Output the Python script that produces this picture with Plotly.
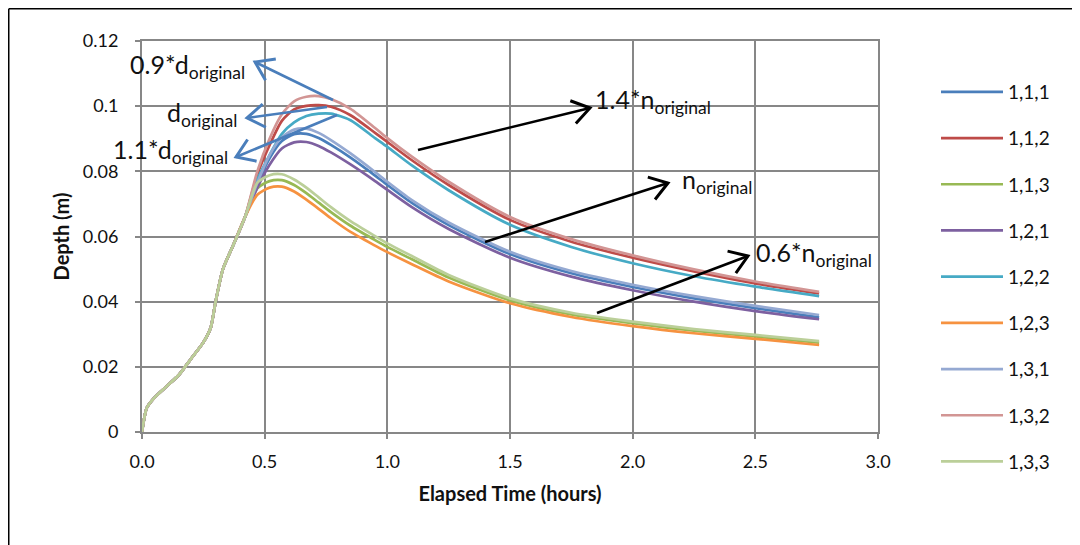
import math
import plotly.graph_objects as go

# ---------------- data ----------------
time_h = [0, 0.02, 0.05, 0.10, 0.15, 0.20, 0.25, 0.28, 0.30, 0.33, 0.37, 0.42,
          0.47, 0.52, 0.57, 0.62, 0.67, 0.72, 0.77, 0.85, 0.95, 1.00, 1.10, 1.25,
          1.50, 1.75, 2.00, 2.25, 2.50, 2.76]

rise = [0, 0.0075, 0.0105, 0.0140, 0.0175, 0.0225, 0.0275, 0.0320, 0.0400, 0.0500, 0.0570, 0.0660]

s_111 = rise + [0.0760, 0.0840, 0.0893, 0.0914, 0.0915, 0.0902, 0.0881, 0.0842, 0.0787, 0.0758, 0.0703, 0.0635,
                0.0546, 0.0487, 0.0445, 0.0410, 0.0380, 0.0352]
s_112 = rise + [0.0790, 0.0880, 0.0955, 0.0990, 0.1001, 0.1003, 0.0998, 0.0972, 0.0918, 0.0890, 0.0834, 0.0758,
                0.0651, 0.0584, 0.0535, 0.0493, 0.0456, 0.0425]
s_113 = rise + [0.0748, 0.0770, 0.0773, 0.0758, 0.0733, 0.0704, 0.0675, 0.0633, 0.0589, 0.0568, 0.0530, 0.0474,
                0.0404, 0.0361, 0.0334, 0.0311, 0.0293, 0.0274]
s_121 = rise + [0.0750, 0.0820, 0.0870, 0.0889, 0.0890, 0.0878, 0.0858, 0.0821, 0.0770, 0.0743, 0.0690, 0.0623,
                0.0535, 0.0477, 0.0435, 0.0400, 0.0371, 0.0346]
s_122 = rise + [0.0775, 0.0850, 0.0915, 0.0950, 0.0970, 0.0977, 0.0977, 0.0957, 0.0902, 0.0875, 0.0818, 0.0742,
                0.0636, 0.0568, 0.0518, 0.0478, 0.0446, 0.0417]
s_123 = rise + [0.0728, 0.0750, 0.0753, 0.0738, 0.0713, 0.0685, 0.0656, 0.0614, 0.0572, 0.0552, 0.0515, 0.0462,
                0.0395, 0.0353, 0.0325, 0.0303, 0.0286, 0.0267]
s_131 = rise + [0.0765, 0.0850, 0.0905, 0.0928, 0.0931, 0.0918, 0.0896, 0.0855, 0.0798, 0.0768, 0.0712, 0.0643,
                0.0553, 0.0494, 0.0452, 0.0417, 0.0387, 0.0359]
s_132 = rise + [0.0800, 0.0900, 0.0975, 0.1015, 0.1029, 0.1031, 0.1022, 0.0992, 0.0933, 0.0902, 0.0845, 0.0768,
                0.0660, 0.0592, 0.0542, 0.0499, 0.0462, 0.0430]
s_133 = rise + [0.0765, 0.0788, 0.0791, 0.0775, 0.0750, 0.0720, 0.0690, 0.0647, 0.0601, 0.0579, 0.0540, 0.0482,
                0.0410, 0.0366, 0.0339, 0.0316, 0.0298, 0.0279]

series_names = ["1,1,1", "1,1,2", "1,1,3", "1,2,1", "1,2,2", "1,2,3", "1,3,1", "1,3,2", "1,3,3"]
series_values = [s_111, s_112, s_113, s_121, s_122, s_123, s_131, s_132, s_133]
series_colors = ["#4A7EBB", "#BE4B48", "#98B954", "#7D60A0", "#46AAC5", "#F69240",
                 "#95A9D2", "#D29594", "#BBCF99"]

x_ticks = [0, 0.5, 1.0, 1.5, 2.0, 2.5, 3.0]
y_ticks = [0, 0.02, 0.04, 0.06, 0.08, 0.10, 0.12]

labels = ["0.9*d<sub>original</sub>", "d<sub>original</sub>", "1.1*d<sub>original</sub>",
          "1.4*n<sub>original</sub>", "n<sub>original</sub>", "0.6*n<sub>original</sub>"]

FONT = "Lato"
GRID = "#878787"
TXT = "#111111"

# page pixel geometry (page has an 8px body margin)
OFF = 8
PL, PR, PT, PB = 142, 878, 41, 432
W, H = 1080 - OFF, 545 - OFF


def px_x(px):  # page px -> paper x
    return (px - PL) / (PR - PL)


def px_y(py):  # page px -> paper y
    return (PB - py) / (PB - PT)


fig = go.Figure()
for name, vals, col in zip(series_names, series_values, series_colors):
    fig.add_trace(go.Scatter(x=time_h, y=vals, name=name, mode="lines",
                             line=dict(color=col, width=2.7, shape="spline", smoothing=0.7),
                             legendgroup=name))

BLUE = "#4A7EBB"
arrows = [
    (333, 100, 255, 62, BLUE),
    (327, 107, 247, 118, BLUE),
    (337, 115, 236, 157, BLUE),
    (418, 150, 590, 108, "black"),
    (485, 242, 668, 183, "black"),
    (597, 313, 748, 256, "black"),
]
ARM, ANG = 21, math.radians(34)
for tx, ty, hx, hy, c in arrows:
    fig.add_shape(type="line", xref="paper", yref="paper",
                  x0=px_x(tx), y0=px_y(ty), x1=px_x(hx), y1=px_y(hy),
                  line=dict(color=c, width=2.6))
    ux, uy = tx - hx, ty - hy
    n = math.hypot(ux, uy)
    ux, uy = ux / n, uy / n
    pts = []
    for s in (1, -1):
        ca, sa = math.cos(s * ANG), math.sin(s * ANG)
        pts.append((hx + ARM * (ux * ca - uy * sa), hy + ARM * (ux * sa + uy * ca)))
    path = "M{:.5f},{:.5f} L{:.5f},{:.5f} L{:.5f},{:.5f}".format(
        px_x(pts[0][0]), px_y(pts[0][1]), px_x(hx), px_y(hy), px_x(pts[1][0]), px_y(pts[1][1]))
    fig.add_shape(type="path", xref="paper", yref="paper", path=path,
                  line=dict(color=c, width=3))

text_pos = [(128, 66), (165, 114), (111, 151), (593, 101), (680, 181), (754, 254)]
for (px, py), t in zip(text_pos, labels):
    fig.add_annotation(x=px_x(px), y=px_y(py), xref="paper", yref="paper", text=t, showarrow=False,
                       xanchor="left", yanchor="middle",
                       font=dict(family=FONT, size=25, color=TXT))

# outer frame lines (top and left)
fig.add_shape(type="line", xref="paper", yref="paper", x0=px_x(OFF + 0.75), x1=px_x(1100),
              y0=px_y(OFF + 0.75), y1=px_y(OFF + 0.75), line=dict(color="black", width=1.5))
fig.add_shape(type="line", xref="paper", yref="paper", x0=px_x(OFF + 0.75), x1=px_x(OFF + 0.75),
              y0=px_y(OFF + 0.75), y1=px_y(600), line=dict(color="black", width=1.5))

fig.update_layout(
    width=W, height=H,
    margin=dict(l=PL - OFF, r=W - (PR - OFF), t=PT - OFF, b=H - (PB - OFF)),
    paper_bgcolor="white", plot_bgcolor="white",
    font=dict(family=FONT, size=18, color=TXT),
    legend=dict(x=px_x(936), y=px_y(73), xanchor="left", yanchor="top",
                font=dict(family=FONT, size=19, color=TXT),
                tracegroupgap=18.5, itemwidth=62, maxheight=520,
                bgcolor="rgba(0,0,0,0)"),
    xaxis=dict(range=[0, 3.0], tickvals=x_ticks, tickformat=".1f",
               showgrid=True, gridcolor=GRID, gridwidth=2,
               showline=True, linecolor=GRID, linewidth=2, mirror=True,
               ticks="outside", ticklen=5, tickcolor=GRID, tickwidth=2,
               zeroline=False, tickfont=dict(size=18, color=TXT), ticklabelstandoff=7,
               title=dict(text="<b>Elapsed Time (hours)</b>", font=dict(family=FONT, size=20, color=TXT),
                          standoff=16)),
    yaxis=dict(range=[0, 0.12], tickvals=y_ticks,
               showgrid=True, gridcolor=GRID, gridwidth=2,
               showline=True, linecolor=GRID, linewidth=2, mirror=True,
               ticks="outside", ticklen=5, tickcolor=GRID, tickwidth=2,
               zeroline=False, tickfont=dict(size=18, color=TXT), ticklabelstandoff=13,
               title=dict(text="<b>Depth (m)</b>", font=dict(family=FONT, size=20, color=TXT),
                          standoff=8)),
)

fig.write_html("out.html")
